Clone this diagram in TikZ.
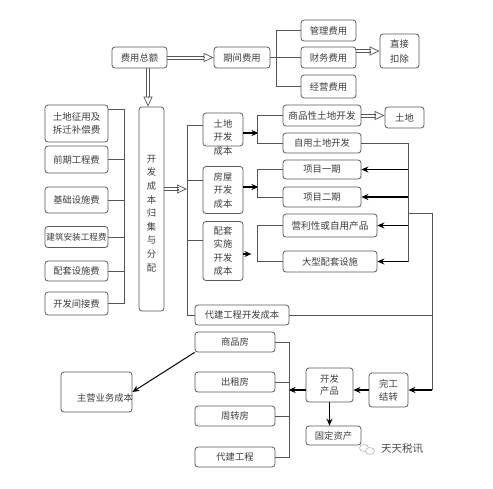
\documentclass[tikz,border=0pt]{standalone}
\usepackage{fontspec}
\setmainfont{Noto Sans CJK SC}
\usetikzlibrary{arrows.meta,calc}
\definecolor{boxc}{HTML}{5A5A5A}
\definecolor{linec}{HTML}{555555}
\definecolor{txtc}{HTML}{3C3C3C}
\tikzset{
  box/.style={draw=boxc, rounded corners=3pt, line width=0.8pt, inner sep=0pt, text=txtc,
    font=\fontsize{9.3}{13}\selectfont, align=center},
  txt/.style={inner sep=0pt, text=txtc, font=\fontsize{9.3}{13.5}\selectfont, align=center},
  ln/.style={draw=linec, line width=0.7pt},
  arr/.style={draw=black, line width=1.2pt, -{Stealth[length=7pt,width=6pt]}},
  dln/.style={draw=linec, line width=0.7pt},
  dtip/.style={draw=linec, line width=0.7pt, -{Triangle[open,length=10pt,width=9pt]}},
}
\begin{document}
\begin{tikzpicture}[x=1pt,y=-1pt]
\useasboundingbox[fill=white] (0,0) rectangle (493,488);
% top
\node[box, minimum width=55pt, minimum height=21pt] (zong) at (139.5,57.5) {费用总额};
\node[box, minimum width=56pt, minimum height=21pt] (qijian) at (242,57.5) {期间费用};
\node[box, minimum width=55pt, minimum height=21pt] (guanli) at (328.5,30.5) {管理费用};
\node[box, minimum width=55pt, minimum height=21pt] (caiwu) at (328.5,57.5) {财务费用};
\node[box, minimum width=55pt, minimum height=23pt] (jingying) at (328.5,86.5) {经营费用};
\node[box, minimum width=39pt, minimum height=34pt, font=\fontsize{9.3}{15}\selectfont] (kouchu) at (399.5,51) {直接\\扣除};
% left column
\node[box, minimum width=63pt, minimum height=37pt, font=\fontsize{9.5}{12.5}\selectfont] (L1) at (76.5,123.5) {土地征用及\\拆迁补偿费};
\node[box, minimum width=63pt, minimum height=27pt] (L2) at (76.5,159.5) {前期工程费};
\node[box, minimum width=63pt, minimum height=26pt] (L3) at (76.5,200) {基础设施费};
\node[box, minimum width=63pt, minimum height=21pt, font=\fontsize{8.6}{12}\selectfont] (L4) at (76.5,237) {建筑安装工程费};
\node[box, minimum width=63pt, minimum height=20pt] (L5) at (76.5,271) {配套设施费};
\node[box, minimum width=63pt, minimum height=23pt] (L6) at (76.5,303.5) {开发间接费};
\node[box, minimum width=25pt, minimum height=204pt] (jiji) at (151.5,209) {};
\node[txt, font=\fontsize{9.3}{13.6}\selectfont] (jijit) at (151.5,213.5) {开\\发\\成\\本\\归\\集\\与\\分\\配};
% middle
\node[box, minimum width=40pt, minimum height=33pt] (td) at (223,129.5) {};
\node[txt] (tdt) at (223,137) {土地\\开发\\成本};
\node[box, minimum width=40pt, minimum height=47pt, font=\fontsize{9.3}{13.5}\selectfont] (fw) at (223,190) {房屋\\开发\\成本};
\node[box, minimum width=40pt, minimum height=59pt, font=\fontsize{9.3}{13.4}\selectfont] (pt) at (223,251) {配套\\实施\\开发\\成本};
\node[box, minimum width=94pt, minimum height=20pt] (dj) at (242,315) {代建工程开发成本};
% right group
\node[box, minimum width=78pt, minimum height=21pt, font=\fontsize{9.6}{13}\selectfont] (sp) at (322,115.5) {商品性土地开发};
\node[box, minimum width=78pt, minimum height=20pt] (zy) at (322,143) {自用土地开发};
\node[box, minimum width=39pt, minimum height=21pt] (tudi) at (404.5,117.5) {土地};
\node[box, minimum width=78pt, minimum height=19pt] (x1) at (322,169.5) {项目一期};
\node[box, minimum width=78pt, minimum height=20pt] (x2) at (322,197) {项目二期};
\node[box, minimum width=94pt, minimum height=23pt, font=\fontsize{9.6}{13}\selectfont] (yl) at (330,225.5) {营利性或自用产品};
\node[box, minimum width=94pt, minimum height=21pt] (dx) at (330,261.5) {大型配套设施};
% bottom
\node[box, minimum width=39pt, minimum height=34pt] (wg) at (388.5,390) {完工\\结转};
\node[box, minimum width=47pt, minimum height=34pt, font=\fontsize{9.3}{12.5}\selectfont] (cp) at (329.5,385) {开发\\产品};
\node[box, minimum width=55pt, minimum height=19pt] (gd) at (333.5,435.5) {固定资产};
\node[box, minimum width=80pt, minimum height=20pt] (spf) at (235,342) {商品房};
\node[box, minimum width=80pt, minimum height=20pt] (cz) at (235,382) {出租房};
\node[box, minimum width=80pt, minimum height=20pt] (zz) at (235,416) {周转房};
\node[box, minimum width=80pt, minimum height=20pt] (djgc) at (235,457) {代建工程};
\node[box, minimum width=71pt, minimum height=40pt] (zhu) at (96.5,392) {};
\node[txt] (zhut) at (105,398) {主营业务成本};
% coordinates
\coordinate (lbtop) at (124,109);
\coordinate (lbbot) at (124,303.5);
\coordinate (rb) at (187,189);
\coordinate (bt) at (187,125);
\coordinate (bb) at (187,315);
\coordinate (rbot) at (408,261.5);
\coordinate (lk) at (408,213);
% double arrows (two parallel lines + open head)
\draw[dln] ([yshift=1.6pt]zong.east) -- ([xshift=-10pt,yshift=1.6pt]qijian.west);
\draw[dln] ([yshift=-1.6pt]zong.east) -- ([xshift=-10pt,yshift=-1.6pt]qijian.west);
\draw[dtip] ([xshift=-10.1pt]qijian.west) -- (qijian.west);
\draw[dln] ([xshift=10.1pt]zong.south) -- ([xshift=-1.9pt,yshift=10pt]jiji.north);
\draw[dln] ([xshift=6.9pt]zong.south) -- ([xshift=-5.1pt,yshift=10pt]jiji.north);
\draw[dtip] ([xshift=-3.5pt,yshift=10.1pt]jiji.north) -- ([xshift=-3.5pt]jiji.north);
\draw[dln] ([yshift=8.1pt]caiwu.east) -- ([xshift=-9pt,yshift=1.6pt]kouchu.west);
\draw[dln] ([yshift=4.9pt]caiwu.east) -- ([xshift=-9pt,yshift=-1.6pt]kouchu.west);
\draw[dtip] ([xshift=-9.1pt]kouchu.west) -- (kouchu.west);
\draw[dln] ([yshift=1.6pt]sp.east) -- ([xshift=-9pt,yshift=1.6pt]sp.east -| tudi.west);
\draw[dln] ([yshift=-1.6pt]sp.east) -- ([xshift=-9pt,yshift=-1.6pt]sp.east -| tudi.west);
\draw[dtip] ([xshift=-9.1pt]sp.east -| tudi.west) -- (sp.east -| tudi.west);
\draw[dln] ([yshift=21.6pt]jiji.east) -- ([xshift=-8pt,yshift=1.6pt]rb);
\draw[dln] ([yshift=18.4pt]jiji.east) -- ([xshift=-8pt,yshift=-1.6pt]rb);
\draw[dtip] ([xshift=-8.1pt]rb) -- (rb);
% period costs
\draw[ln] (qijian.east) -- (caiwu.west);
\draw[ln] (guanli.west) -- ++(-24,0) |- (jingying.west);
% left bus
\draw[ln] ([yshift=14.5pt]L1.east) -- (lbtop) -- (lbbot) -- (L6.east);
\draw[ln] (L2.east) -- (L2.east -| lbtop);
\draw[ln] (L3.east) -- (L3.east -| lbtop);
\draw[ln] (L4.east) -- (L4.east -| lbtop);
\draw[ln] (L5.east) -- (L5.east -| lbtop);
% right bus of allocation
\draw[ln] ([yshift=4.5pt]td.west) -- (bt) -- (bb) -- (dj.west);
\draw[ln] ([yshift=10pt]fw.west) -- ++(-16,0);
\draw[ln] ([yshift=11pt]pt.west) -- ++(-16,0);
% cost branches
\draw[arr] ([yshift=-3.5pt]td.east) -- ++(15,0);
\draw[ln] (sp.west) -- ++(-25,0) |- (zy.west);
\draw[arr] ([yshift=3pt]fw.east) -- ++(15,0);
\draw[ln] (x1.west) -- ++(-25,0) |- (x2.west);
\draw[arr] ([yshift=-3pt]pt.east) -- ++(8,0);
\draw[ln] (yl.west) -- ++(-25,0) |- (dx.west);
% right feedback
\draw[ln] (zy.east) -| (rbot);
\draw[arr] (x1.east -| rbot) -- (x1.east);
\draw[arr] (x2.east -| rbot) -- (x2.east);
\draw[arr] (yl.east -| rbot) -- (yl.east);
\draw[arr] (dx.east -| rbot) -- (dx.east);
\draw[ln] (lk) -- ++(24,0) -- ++(0,177);
\draw[arr] ([xshift=24pt]wg.east) -- (wg.east);
\draw[ln] (dj.east) -- ++(143,0);
% bottom flow
\draw[arr] (wg.west) -- (wg.west -| cp.east);
\draw[arr] (cp.west |- wg.west) -- ++(-17,0);
\draw[ln] (spf.east) -- ++(14,0) |- (djgc.east);
\draw[ln] (cz.east) -- ++(14,0);
\draw[ln] (zz.east) -- ++(14,0);
\draw[arr] (cp.south) -- (cp.south |- gd.north);
\draw[arr, line width=1pt] (spf.south west) -- (zhu.east);
% watermark
\draw[gray!55, line width=0.6pt] (364,448) ellipse (4.5pt and 3.5pt);
\draw[gray!55, line width=0.6pt, fill=white] (370,451) ellipse (4.5pt and 3.5pt);
\node[inner sep=0pt, text=gray!60!black, font=\fontsize{10.5}{12}\selectfont] (wm) at (402,449) {天天税讯};
\end{tikzpicture}
\end{document}
